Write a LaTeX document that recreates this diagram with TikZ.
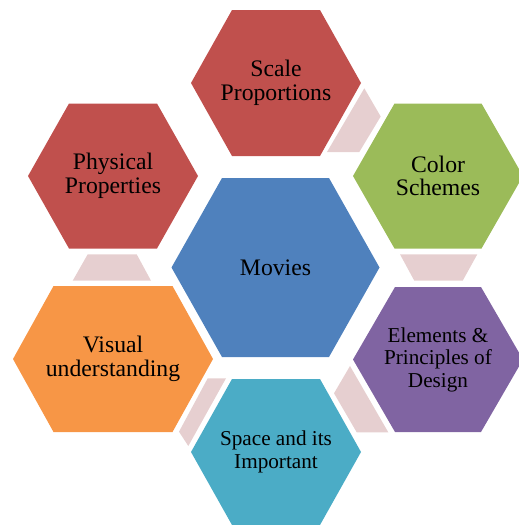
\documentclass[tikz,border=0pt]{standalone}
\usepackage{fontspec}
\setmainfont{LiberationSerif}[Extension=.ttf,UprightFont=*-Regular,BoldFont=*-Bold]
\newfontfamily\hexfont{LiberationSerif}[Extension=.ttf,UprightFont=*-Regular]

\definecolor{hexred}{HTML}{C0504D}
\definecolor{hexgreen}{HTML}{9BBB59}
\definecolor{hexblue}{HTML}{4F81BD}
\definecolor{hexpurple}{HTML}{8064A2}
\definecolor{hexteal}{HTML}{4BACC6}
\definecolor{hexorange}{HTML}{F79646}
\definecolor{linkpink}{HTML}{E6CFD0}

% centre x, centre y, half width, half top edge, half height, colour
\newcommand{\hexagon}[6]{%
  \fill[#6] (#1-#3,#2) -- (#1-#4,#2-#5) -- (#1+#4,#2-#5) -- (#1+#3,#2)
    -- (#1+#4,#2+#5) -- (#1-#4,#2+#5) -- cycle;}

\begin{document}
\begin{tikzpicture}[x=1pt,y=-1pt,
  hexbig/.style={align=center,font={\hexfont\fontsize{23.7pt}{23.5pt}\selectfont}},
  hexsmall/.style={align=center,font={\hexfont\fontsize{21.2pt}{22.5pt}\selectfont}},
  link/.style={fill=linkpink}]
  \clip (0,0) rectangle (519,525);
  % hexagons
  \hexagon{275.5}{267.5}{104}{53.5}{89.5}{hexblue}
  \hexagon{276}{83}{85}{44}{73}{hexred}
  \hexagon{438}{176}{85}{43.5}{72.5}{hexgreen}
  \hexagon{438}{359.5}{85}{43}{72.5}{hexpurple}
  \hexagon{276}{452}{85}{44}{73}{hexteal}
  \hexagon{113}{359}{100}{59.5}{73}{hexorange}
  \hexagon{113}{176}{85}{44}{72.5}{hexred}
  % links between the outer hexagons
  \fill[link] (364.3,88.3) -- (380.7,116.5) -- (359.3,152) -- (327,152) -- cycle;
  \fill[link] (400,254.3) -- (477.3,254.3) -- (462.7,280.7) -- (414.3,280.7) -- cycle;
  \fill[link] (350,366) -- (388.3,432.3) -- (356.7,432.3) -- (334,393.3) -- cycle;
  \fill[link] (207.7,378.3) -- (226,378.3) -- (188.3,446) -- (179,431.7) -- cycle;
  \fill[link] (87.7,254.3) -- (136.7,254.3) -- (151,280.7) -- (72.7,280.7) -- cycle;
  % labels
  \node[hexbig] (movies) at (275.5,267.5) {Movies};
  \node[hexbig] (scale) at (276,83) {Scale\\Proportions};
  \node[hexbig] (color) at (438,176) {Color\\Schemes};
  \node[hexsmall] (elements) at (438,359.5) {Elements \&\\Principles of\\Design};
  \node[hexsmall] (space) at (276,452) {Space and its\\Important};
  \node[hexbig] (visual) at (113,359) {Visual\\understanding};
  \node[hexbig] (physical) at (113,176) {Physical\\Properties};
\end{tikzpicture}
\end{document}
